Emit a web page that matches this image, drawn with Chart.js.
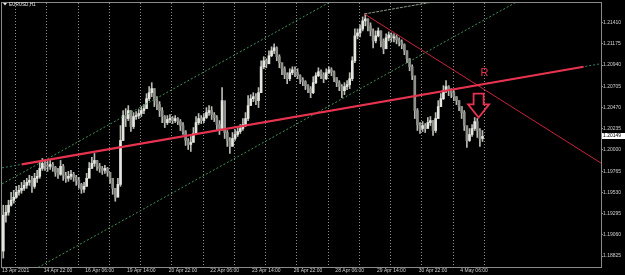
<!DOCTYPE html>
<html lang="en">
<head>
  <meta charset="UTF-8">
  <title>EURUSD,H1</title>
  <script src="https://cdn.jsdelivr.net/npm/chart.js"></script>
  <style>
    html, body { margin: 0; padding: 0; background: #000; overflow: hidden; }
    #chart { display: block; }
  </style>
</head>
<body>
  <canvas id="chart" width="625" height="275"></canvas>
  <script>
    // EURUSD H1, one candle per 2 trading hours
    var symbol = 'EURUSD,H1';
    var hoursPerBar = 2;
    var open0 = 1.18880;
    var hi = [
      1.19388, 1.19388, 1.19443, 1.19531, 1.19553, 1.19597, 1.19608, 1.19641, 1.19663, 1.19686,
      1.19719, 1.19708, 1.19741, 1.19774, 1.19862, 1.19906, 1.19884, 1.19873, 1.19884, 1.19862,
      1.19818, 1.19796, 1.19884, 1.19840, 1.19752, 1.19763, 1.19774, 1.19752, 1.19719, 1.19697,
      1.19630, 1.19641, 1.19741, 1.19862, 1.19917, 1.19961, 1.19884, 1.19851, 1.19818, 1.19829,
      1.19807, 1.19752, 1.19663, 1.19575, 1.19686, 1.20270, 1.20436, 1.20458, 1.20491, 1.20436,
      1.20414, 1.20425, 1.20447, 1.20480, 1.20502, 1.20623, 1.20701, 1.20745, 1.20679, 1.20590,
      1.20535, 1.20469, 1.20381, 1.20381, 1.20392, 1.20370, 1.20381, 1.20359, 1.20337, 1.20303,
      1.20215, 1.20127, 1.20149, 1.20248, 1.20370, 1.20403, 1.20381, 1.20403, 1.20469, 1.20491,
      1.20480, 1.20414, 1.20381, 1.20325, 1.20690, 1.20491, 1.20215, 1.20138, 1.20193, 1.20226,
      1.20259, 1.20281, 1.20348, 1.20414, 1.20601, 1.20612, 1.20634, 1.20623, 1.20690, 1.20987,
      1.21032, 1.21010, 1.21098, 1.21142, 1.21175, 1.21142, 1.21054, 1.20965, 1.20921, 1.20855,
      1.20899, 1.20921, 1.20921, 1.20899, 1.20833, 1.20800, 1.20767, 1.20723, 1.20701, 1.20811,
      1.20855, 1.20910, 1.20888, 1.20855, 1.20899, 1.20921, 1.20910, 1.20877, 1.20800, 1.20767,
      1.20723, 1.20745, 1.20767, 1.20855, 1.21032, 1.21340, 1.21340, 1.21385, 1.21473, 1.21506,
      1.21451, 1.21407, 1.21340, 1.21318, 1.21352, 1.21318, 1.21230, 1.21285, 1.21307, 1.21296,
      1.21285, 1.21274, 1.21241, 1.21219, 1.21175, 1.21098, 1.21010, 1.20943, 1.20789, 1.20458,
      1.20303, 1.20314, 1.20292, 1.20359, 1.20370, 1.20325, 1.20414, 1.20546, 1.20623, 1.20712,
      1.20767, 1.20712, 1.20679, 1.20656, 1.20590, 1.20546, 1.20480, 1.20436, 1.20259, 1.20237,
      1.20281, 1.20359, 1.20348, 1.20237, 1.20215
    ];
    var lo = [
      1.18803, 1.19200, 1.19277, 1.19377, 1.19410, 1.19465, 1.19498, 1.19520, 1.19553, 1.19575,
      1.19608, 1.19531, 1.19575, 1.19641, 1.19686, 1.19774, 1.19774, 1.19763, 1.19785, 1.19763,
      1.19708, 1.19686, 1.19719, 1.19663, 1.19641, 1.19652, 1.19675, 1.19652, 1.19608, 1.19575,
      1.19520, 1.19531, 1.19597, 1.19708, 1.19796, 1.19818, 1.19774, 1.19752, 1.19730, 1.19741,
      1.19708, 1.19630, 1.19509, 1.19432, 1.19487, 1.19597, 1.20105, 1.20259, 1.20325, 1.20204,
      1.20237, 1.20337, 1.20348, 1.20370, 1.20403, 1.20458, 1.20546, 1.20590, 1.20480, 1.20447,
      1.20370, 1.20303, 1.20248, 1.20281, 1.20303, 1.20292, 1.20303, 1.20281, 1.20215, 1.20171,
      1.20050, 1.20005, 1.19983, 1.20094, 1.20171, 1.20281, 1.20292, 1.20303, 1.20348, 1.20381,
      1.20337, 1.20314, 1.20215, 1.20171, 1.20215, 1.20127, 1.20039, 1.19961, 1.20050, 1.20105,
      1.20149, 1.20182, 1.20215, 1.20259, 1.20325, 1.20502, 1.20535, 1.20502, 1.20469, 1.20634,
      1.20899, 1.20910, 1.20965, 1.21032, 1.21065, 1.20987, 1.20910, 1.20833, 1.20789, 1.20734,
      1.20767, 1.20833, 1.20811, 1.20789, 1.20734, 1.20712, 1.20668, 1.20634, 1.20579, 1.20623,
      1.20734, 1.20811, 1.20789, 1.20745, 1.20778, 1.20844, 1.20822, 1.20756, 1.20701, 1.20656,
      1.20579, 1.20612, 1.20668, 1.20679, 1.20767, 1.20965, 1.21230, 1.21252, 1.21318, 1.21374,
      1.21318, 1.21263, 1.21131, 1.21186, 1.21252, 1.21142, 1.21065, 1.21120, 1.21208, 1.21197,
      1.21197, 1.21175, 1.21153, 1.21120, 1.21054, 1.20965, 1.20877, 1.20778, 1.20348, 1.20215,
      1.20182, 1.20204, 1.20193, 1.20248, 1.20270, 1.20160, 1.20193, 1.20348, 1.20480, 1.20557,
      1.20634, 1.20601, 1.20579, 1.20546, 1.20502, 1.20436, 1.20348, 1.20215, 1.20028, 1.20094,
      1.20149, 1.20215, 1.20138, 1.20039, 1.20094
    ];
    var cl = [
      1.19277, 1.19310, 1.19388, 1.19443, 1.19476, 1.19531, 1.19553, 1.19575, 1.19608, 1.19641,
      1.19663, 1.19597, 1.19686, 1.19708, 1.19796, 1.19851, 1.19829, 1.19818, 1.19840, 1.19807,
      1.19752, 1.19730, 1.19818, 1.19719, 1.19686, 1.19708, 1.19730, 1.19697, 1.19663, 1.19619,
      1.19564, 1.19597, 1.19686, 1.19796, 1.19851, 1.19884, 1.19818, 1.19796, 1.19774, 1.19796,
      1.19752, 1.19686, 1.19575, 1.19476, 1.19619, 1.20105, 1.20381, 1.20348, 1.20436, 1.20259,
      1.20370, 1.20381, 1.20403, 1.20436, 1.20458, 1.20568, 1.20634, 1.20679, 1.20546, 1.20502,
      1.20436, 1.20370, 1.20303, 1.20337, 1.20348, 1.20325, 1.20348, 1.20314, 1.20270, 1.20204,
      1.20105, 1.20061, 1.20083, 1.20182, 1.20303, 1.20348, 1.20325, 1.20359, 1.20414, 1.20436,
      1.20392, 1.20359, 1.20281, 1.20237, 1.20546, 1.20193, 1.20105, 1.20039, 1.20127, 1.20171,
      1.20204, 1.20237, 1.20281, 1.20348, 1.20491, 1.20568, 1.20590, 1.20546, 1.20634, 1.20921,
      1.20987, 1.20954, 1.21043, 1.21098, 1.21131, 1.21032, 1.20965, 1.20899, 1.20833, 1.20789,
      1.20855, 1.20888, 1.20855, 1.20822, 1.20778, 1.20756, 1.20712, 1.20679, 1.20634, 1.20745,
      1.20822, 1.20866, 1.20833, 1.20789, 1.20855, 1.20888, 1.20866, 1.20800, 1.20745, 1.20701,
      1.20656, 1.20701, 1.20723, 1.20789, 1.20987, 1.21263, 1.21296, 1.21340, 1.21429, 1.21451,
      1.21374, 1.21318, 1.21208, 1.21263, 1.21318, 1.21208, 1.21120, 1.21241, 1.21274, 1.21241,
      1.21252, 1.21219, 1.21197, 1.21164, 1.21098, 1.21010, 1.20921, 1.20822, 1.20436, 1.20281,
      1.20237, 1.20270, 1.20237, 1.20303, 1.20325, 1.20215, 1.20348, 1.20480, 1.20568, 1.20656,
      1.20701, 1.20656, 1.20634, 1.20590, 1.20546, 1.20480, 1.20414, 1.20270, 1.20105, 1.20171,
      1.20237, 1.20314, 1.20215, 1.20127, 1.20149
    ];

    // time axis labels, one every 32 trading hours
    var xLabels = ['13 Apr 2021', '14 Apr 22:00', '16 Apr 06:00', '19 Apr 14:00', '20 Apr 22:00', '22 Apr 06:00',
                   '23 Apr 14:00', '26 Apr 22:00', '28 Apr 06:00', '29 Apr 14:00', '30 Apr 22:00', '4 May 06:00'];
    var labelStep = 32;
    var firstDayBreak = 10;   // hour index of 14 Apr 00:00
    var yTicks = [1.18825, 1.19060, 1.19295, 1.19530, 1.19765, 1.20000, 1.20235, 1.20470, 1.20705, 1.20940, 1.21175, 1.21410];

    // drawn objects: [hour, price] pairs
    var supportLine = [[15.1, 1.19840], [446.6, 1.20921]];
    var supportRay = [[0, 1.19802], [460, 1.20955]];
    var downLine = [[278.3, 1.21506], [460.4, 1.19851]];
    var peakLine = [[278.3, 1.21506], [340, 1.21661]];
    var channelTop = [[0, 1.19623], [260, 1.21703]];
    var channelBottom = [[25, 1.18677], [400, 1.21677]];
    var rMark = [370.5, 1.20855];
    var arrowTip = [366, 1.20359];
    var arrowTop = 1.20623;

    var upColor = '#e4e6e0';
    var downColor = '#8e8e8a';
    var redColor = '#e8334f';

    function pts(arr) {
      return arr.map(function(p) { return {x: p[0], y: p[1]}; });
    }

    var wicks = cl.map(function(c, i) {
      return {x: i * hoursPerBar + hoursPerBar / 2, y: [lo[i], hi[i]]};
    });
    var bodies = cl.map(function(c, i) {
      var o = i ? cl[i - 1] : open0;
      return {x: i * hoursPerBar + hoursPerBar / 2, y: [o, c]};
    });
    var bodyColors = cl.map(function(c, i) {
      var o = i ? cl[i - 1] : open0;
      return c >= o ? upColor : downColor;
    });

    function lineSet(arr, color, width, dash, order) {
      return {
        type: 'line', data: pts(arr), borderColor: color, borderWidth: width,
        borderDash: dash, pointRadius: 0, fill: false, tension: 0, order: order
      };
    }

    var decor = {
      id: 'decor',
      beforeDraw: function(chart) {
        var ctx = chart.ctx;
        ctx.save();
        ctx.fillStyle = '#000';
        ctx.fillRect(0, 0, chart.width, chart.height);
        ctx.restore();
      },
      beforeDatasetsDraw: function(chart) {
        var ctx = chart.ctx, a = chart.chartArea, xs = chart.scales.x;
        var lastHour = cl.length * hoursPerBar;
        ctx.save();
        ctx.strokeStyle = '#8e8e8e';
        ctx.lineWidth = 1;
        ctx.setLineDash([1, 2]);
        for (var h = firstDayBreak; h <= lastHour; h += 24) {
          var px = Math.round(xs.getPixelForValue(h)) + 0.5;
          ctx.beginPath();
          ctx.moveTo(px, a.top);
          ctx.lineTo(px, a.bottom);
          ctx.stroke();
        }
        ctx.restore();
      },
      afterDraw: function(chart) {
        var ctx = chart.ctx, a = chart.chartArea, xs = chart.scales.x, ys = chart.scales.y;
        ctx.save();
        // frame
        ctx.strokeStyle = '#8a8a8a';
        ctx.lineWidth = 1;
        ctx.strokeRect(a.left - 0.5, a.top - 0.5, a.right - a.left + 1, a.bottom - a.top + 1);

        // symbol title
        ctx.fillStyle = '#e8e8e8';
        ctx.beginPath();
        ctx.moveTo(3, 3); ctx.lineTo(7, 3); ctx.lineTo(5, 5.5); ctx.closePath();
        ctx.fill();
        ctx.font = '4.6px "Liberation Sans"';
        ctx.textBaseline = 'middle';
        ctx.fillText(symbol, 9, 4.5);

        // R label
        ctx.fillStyle = redColor;
        ctx.font = '11px "Liberation Sans"';
        ctx.textAlign = 'center';
        ctx.fillText('R', xs.getPixelForValue(rMark[0]), ys.getPixelForValue(rMark[1]));

        // down arrow
        var tx = xs.getPixelForValue(arrowTip[0]);
        var ty = ys.getPixelForValue(arrowTip[1]);
        var top = ys.getPixelForValue(arrowTop);
        var neck = top + (ty - top) * 0.45;
        ctx.beginPath();
        ctx.moveTo(tx - 5, top); ctx.lineTo(tx + 5, top); ctx.lineTo(tx + 5, neck);
        ctx.lineTo(tx + 10.5, neck); ctx.lineTo(tx, ty); ctx.lineTo(tx - 10.5, neck);
        ctx.lineTo(tx - 5, neck); ctx.closePath();
        ctx.strokeStyle = redColor;
        ctx.lineWidth = 1.8;
        ctx.stroke();

        // current price tag
        var last = cl[cl.length - 1];
        var py = Math.round(ys.getPixelForValue(last));
        ctx.fillStyle = '#ffffff';
        ctx.fillRect(a.right + 1, py - 3, 24, 6);
        ctx.fillStyle = '#000';
        ctx.font = '5px "Liberation Sans"';
        ctx.textAlign = 'left';
        ctx.fillText(last.toFixed(5), a.right + 2, py);
        ctx.restore();
      }
    };

    Chart.defaults.font.family = '"Liberation Sans", Arial, sans-serif';
    Chart.defaults.font.size = 5;
    Chart.defaults.color = '#d0d0d0';

    new Chart(document.getElementById('chart'), {
      type: 'bar',
      data: {
        datasets: [
          lineSet(supportLine, redColor, 2.2, [], 0),
          lineSet(downLine, '#c8243a', 1, [], 1),
          lineSet(supportRay, '#3a8070', 1, [2, 2], 2),
          lineSet(peakLine, '#8c9a8c', 1, [3, 1], 2),
          lineSet(channelTop, '#3f9050', 1, [2, 2], 2),
          lineSet(channelBottom, '#3f9050', 1, [2, 2], 2),
          {
            data: bodies, backgroundColor: bodyColors, barThickness: 2,
            grouped: false, minBarLength: 1, order: 3
          },
          {
            data: wicks, backgroundColor: '#b8bcb4', barThickness: 1,
            grouped: false, order: 4
          }
        ]
      },
      options: {
        responsive: false,
        animation: false,
        devicePixelRatio: 1,
        layout: { padding: { left: 2, top: 2, right: 0, bottom: 0 } },
        plugins: { legend: { display: false }, tooltip: { enabled: false } },
        scales: {
          x: {
            type: 'linear',
            min: 0,
            max: 460,
            offset: false,
            afterBuildTicks: function(s) {
              s.ticks = xLabels.map(function(t, k) { return {value: k * labelStep}; });
            },
            afterFit: function(s) { s.height = 8; },
            ticks: {
              autoSkip: false, maxRotation: 0, minRotation: 0, align: 'start', padding: 0,
              callback: function(v) { return xLabels[Math.round(v / labelStep)]; }
            },
            grid: { drawOnChartArea: false, tickLength: 1, color: '#8a8a8a' },
            border: { color: '#8a8a8a' }
          },
          y: {
            position: 'right',
            min: 1.18704,
            max: 1.21627,
            afterBuildTicks: function(s) {
              s.ticks = yTicks.map(function(v) { return {value: v}; });
            },
            afterFit: function(s) { s.width = 24; },
            ticks: { padding: 0, callback: function(v) { return v.toFixed(5); } },
            grid: { drawOnChartArea: false, tickLength: 2, color: '#8a8a8a' },
            border: { color: '#8a8a8a' }
          }
        }
      },
      plugins: [decor]
    });
  </script>
</body>
</html>
